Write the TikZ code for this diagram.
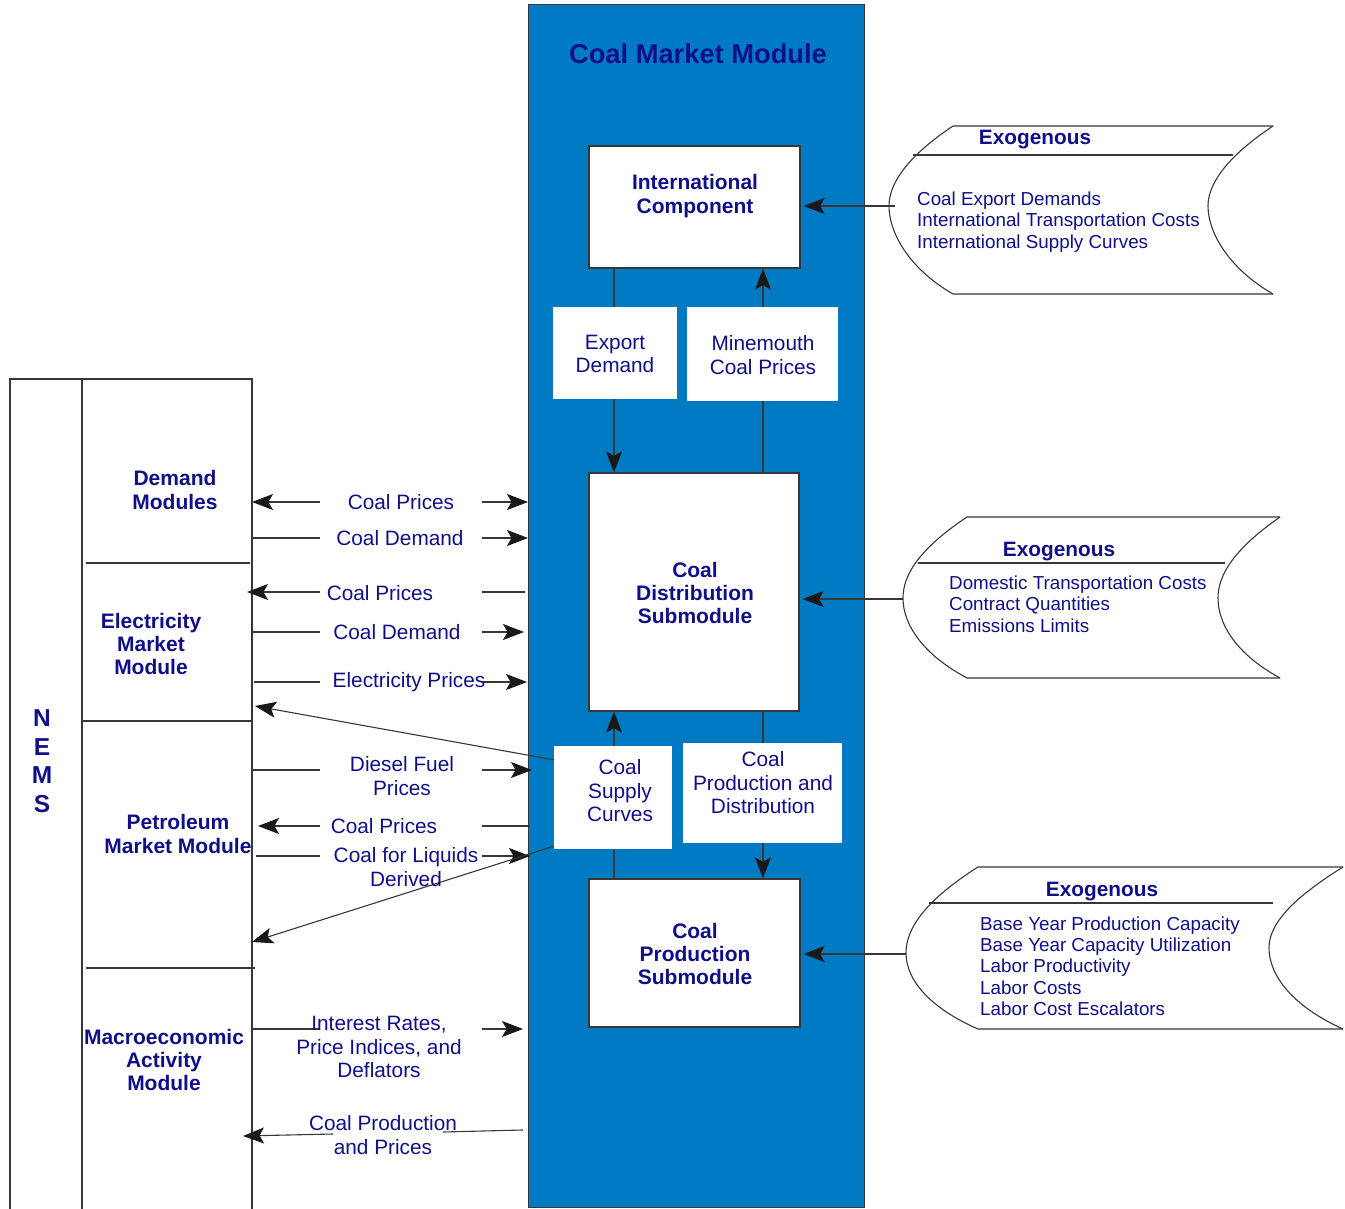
\documentclass[tikz,border=0pt]{standalone}
\usepackage{fontspec}
\setmainfont{Liberation Sans}
\usetikzlibrary{arrows.meta,calc}
\definecolor{navy}{RGB}{15,15,135}
\definecolor{cmblue}{RGB}{0,122,194}
\definecolor{edge}{RGB}{55,55,55}
\definecolor{tipc}{RGB}{25,25,25}
\tikzset{
  lbl/.style={text=navy, font=\fontsize{20.8}{23.5}\selectfont, align=center, inner sep=0pt},
  blbl/.style={text=navy, font=\bfseries\fontsize{21}{23.3}\selectfont, align=center, inner sep=0pt},
  ttl/.style={text=navy, font=\bfseries\fontsize{27.3}{30}\selectfont, inner sep=0pt},
  exlist/.style={text=navy, font=\fontsize{18.8}{21.3}\selectfont, align=left, inner sep=0pt, anchor=west},
  exhead/.style={text=navy, font=\bfseries\fontsize{20.8}{23}\selectfont, inner sep=0pt},
  wbox/.style={fill=white, draw=edge, line width=1.2pt, inner sep=0pt},
  ibox/.style={fill=white, draw=none, inner sep=0pt},
  ln/.style={draw=edge, line width=1.1pt},
  arr/.style={ln, -{Stealth[length=21pt,width=16pt,inset=4.5pt,color=tipc]}},
  exo/.style={draw=edge, line width=1.1pt},
}
\begin{document}
\begin{tikzpicture}[x=1pt,y=-1pt]
\useasboundingbox (0,0) rectangle (1345,1209);

% ---------- NEMS frame ----------
\draw[ln] (10,1209) -- (10,379) -- (252,379) -- (252,1209);
\draw[ln] (82,379) -- (82,1209);
\draw[ln] (86,563) -- (250,563);
\draw[ln] (82,721) -- (252,721);
\draw[ln] (86,968) -- (255,968);
\node[text=navy, font=\bfseries\fontsize{24.5}{28.5}\selectfont, align=center, inner sep=0pt] (nems) at (42,761) {N\\E\\M\\S};
\node[blbl] (demand) at (175,490) {Demand\\Modules};
\node[blbl] (elec) at (151,644) {Electricity\\Market\\Module};
\node[blbl] (petro) at (178,834) {Petroleum\\Market Module};
\node[blbl] (macro) at (164,1060) {Macroeconomic\\Activity\\Module};

% ---------- Coal Market Module ----------
\node[draw=edge, fill=cmblue, line width=1pt, minimum width=336pt, minimum height=1202pt, inner sep=0pt] (cmm) at (696,606) {};
\node[ttl] (title) at (698,54) {Coal Market Module};

\node[wbox, minimum width=211pt, minimum height=122pt] (intl) at (694.5,207) {};
\node[wbox, minimum width=210pt, minimum height=238pt] (dist) at (694,592) {};
\node[wbox, minimum width=211pt, minimum height=148pt] (prod) at (694.5,953) {};

\coordinate (xa) at (614,0);
\coordinate (xb) at (763,0);
\draw[arr] (intl.south -| xa) -- (dist.north -| xa);
\draw[arr] (dist.north -| xb) -- (intl.south -| xb);
\draw[arr] (prod.north -| xa) -- (dist.south -| xa);
\draw[arr] (dist.south -| xb) -- (prod.north -| xb);

\node[ibox, minimum width=124pt, minimum height=92pt] (export) at (615,353) {};
\node[ibox, minimum width=151pt, minimum height=94pt] (mine) at (762.5,354) {};
\node[ibox, minimum width=118pt, minimum height=103pt] (supply) at (613,797.5) {};
\node[ibox, minimum width=159pt, minimum height=100pt] (pdbox) at (762.5,793) {};

\node[blbl] (intlT) at (695,196) {International\\Component};
\node[blbl] (distT) at (695,593) {Coal\\Distribution\\Submodule};
\node[blbl] (prodT) at (695,954) {Coal\\Production\\Submodule};
\node[lbl] (exportT) at (615,354) {Export\\Demand};
\node[lbl] (mineT) at (763,355) {Minemouth\\Coal Prices};
\node[lbl] (supplyT) at (620,791) {Coal\\Supply\\Curves};
\node[lbl] (pdT) at (763,783) {Coal\\Production and\\Distribution};

% ---------- Exogenous 1 ----------
\draw[exo] (1273,126) -- (953,126) .. controls (905,158) and (889,185) .. (889,206)
   .. controls (889,232) and (908,268) .. (953,294) -- (1273,294);
\draw[exo] (1273,126) .. controls (1225,158) and (1208,185) .. (1208,206)
   .. controls (1208,232) and (1228,268) .. (1273,294);
\draw[exo] (913,155) -- (1233,155);
\node[exhead] (ex1h) at (1035,140) {Exogenous};
\node[exlist] (ex1) at (917,222) {Coal Export Demands\\International Transportation Costs\\International Supply Curves};
\coordinate (ex1c) at (895,206);
\draw[arr] (ex1c) -- ([xshift=3pt]intl.east |- ex1c);

% ---------- Exogenous 2 ----------
\draw[exo] (1280,517) -- (967,517) .. controls (919,549) and (903,575) .. (903,598)
   .. controls (903,624) and (922,654) .. (967,678) -- (1280,678);
\draw[exo] (1280,517) .. controls (1234,549) and (1218,575) .. (1218,598)
   .. controls (1218,624) and (1236,654) .. (1280,678);
\draw[exo] (918,563) -- (1225,563);
\node[exhead] (ex2h) at (1059,552) {Exogenous};
\node[exlist] (ex2) at (949,604) {Domestic Transportation Costs\\Contract Quantities\\Emissions Limits};
\coordinate (ex2c) at (903,599);
\draw[arr] (ex2c) -- ([xshift=3pt]dist.east |- ex2c);

% ---------- Exogenous 3 ----------
\draw[exo] (1343,867) -- (978,867) .. controls (926,900) and (906,928) .. (906,953)
   .. controls (906,980) and (930,1008) .. (978,1029) -- (1343,1029);
\draw[exo] (1343,867) .. controls (1290,900) and (1269,925) .. (1269,948)
   .. controls (1269,975) and (1292,1006) .. (1343,1029);
\draw[exo] (929,903) -- (1273,903);
\node[exhead] (ex3h) at (1102,892) {Exogenous};
\node[exlist] (ex3) at (980,966) {Base Year Production Capacity\\Base Year Capacity Utilization\\Labor Productivity\\Labor Costs\\Labor Cost Escalators};
\coordinate (ex3c) at (906,954);
\draw[arr] (ex3c) -- ([xshift=3pt]prod.east |- ex3c);

% ---------- flows NEMS <-> CMM ----------
\coordinate (gl) at (320,0);
\coordinate (gr) at (482,0);
\coordinate (L1) at (252,502);  \coordinate (R1) at (528,502);
\coordinate (L2) at (253,538);  \coordinate (R2) at (528,538);
\coordinate (L3) at (247,592);  \coordinate (R3) at (525,592);
\coordinate (L4) at (252,632);  \coordinate (R4) at (524,632);
\coordinate (L5) at (254,682);  \coordinate (R5) at (527,682);
\coordinate (L6) at (253,770);  \coordinate (R6) at (532,770);
\coordinate (L7) at (258,826);  \coordinate (R7) at (530,826);
\coordinate (L8) at (256,856);  \coordinate (R8) at (530,856);
\coordinate (L9) at (252,1029); \coordinate (R9) at (523,1029);
\coordinate (L10) at (243,1136); \coordinate (R10) at (523,1130);
\coordinate (G10a) at (443,1132); \coordinate (G10b) at (333,1134);
\coordinate (D1) at (255,706);  \coordinate (D2) at (252,942);

\draw[arr] (gl|-L1) -- (L1);  \draw[arr] (gr|-R1) -- (R1);
\draw[ln]  (L2) -- (gl|-L2);  \draw[arr] (gr|-R2) -- (R2);
\draw[arr] (gl|-L3) -- (L3);  \draw[ln]  (gr|-R3) -- (R3);
\draw[ln]  (L4) -- (gl|-L4);  \draw[arr] (gr|-R4) -- (R4);
\draw[ln]  (L5) -- (gl|-L5);  \draw[arr] (gr|-R5) -- (R5);
\draw[ln]  (L6) -- (gl|-L6);  \draw[arr] (gr|-R6) -- (R6);
\draw[arr] (gl|-L7) -- (L7);  \draw[ln]  (gr|-R7) -- (R7);
\draw[ln]  (L8) -- (gl|-L8);  \draw[arr] (gr|-R8) -- (R8);
\draw[ln]  (L9) -- (gl|-L9);  \draw[arr] (gr|-R9) -- (R9);
\draw[ln]  (R10) -- (G10a);   \draw[arr] (G10b) -- (L10);
\draw[arr] ($(supply.north west)+(0,14)$) -- (D1);
\draw[arr] ($(supply.south west)+(0,-3)$) -- (D2);

\node[lbl] (f1) at (401,502) {Coal Prices};
\node[lbl] (f2) at (400,538) {Coal Demand};
\node[lbl] (f3) at (380,593) {Coal Prices};
\node[lbl] (f4) at (397,632) {Coal Demand};
\node[lbl] (f5) at (409,682) {Electricity Prices};
\node[lbl] (f6) at (402,776) {Diesel Fuel\\Prices};
\node[lbl] (f7) at (384,826) {Coal Prices};
\node[lbl] (f8) at (406,867) {Coal for Liquids\\Derived};
\node[lbl] (f9) at (379,1047) {Interest Rates,\\Price Indices, and\\Deflators};
\node[lbl] (f10) at (383,1135) {Coal Production\\and Prices};
\end{tikzpicture}
\end{document}
